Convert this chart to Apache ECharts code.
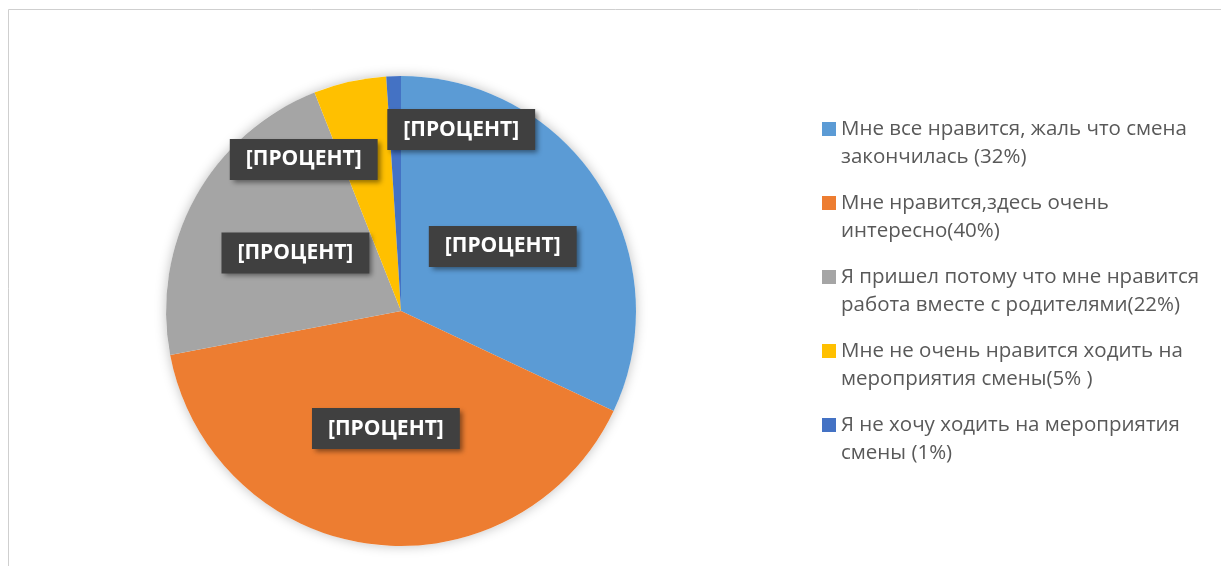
<!DOCTYPE html>
<html>
<head>
<meta charset="utf-8">
<script src="https://cdn.jsdelivr.net/npm/echarts@6/dist/echarts.min.js"></script>
<style>
  html, body { margin: 0; padding: 0; background: #fff; }
  #chart { width: 1221px; height: 566px; }
</style>
</head>
<body>
<div id="chart"></div>
<script>
  // категории (в легенде перенос строки как на картинке)
  const categories = [
    'Мне все нравится, жаль что смена\nзакончилась (32%)',
    'Мне нравится,здесь очень\nинтересно(40%)',
    'Я пришел потому что мне нравится\nработа вместе с родителями(22%)',
    'Мне не очень нравится ходить на\nмероприятия смены(5% )',
    'Я не хочу ходить на мероприятия\nсмены (1%)'
  ]
  const values = [32, 40, 22, 5, 1]
  const colors = ['#5B9BD5', '#ED7D31', '#A5A5A5', '#FFC000', '#4472C4']
  const labelText = '[ПРОЦЕНТ]'
  // сдвиг подписей маленьких секторов
  const labelShift = [[0, 0], [0, -2], [0, 0], [-71, -34], [64, -61]]

  const chart = echarts.init(document.getElementById('chart'))

  chart.setOption({
    animation: false,
    graphic: [{
      type: 'rect',
      silent: true,
      shape: { x: 8.5, y: 9.5, width: 1400, height: 700 },
      style: { fill: null, stroke: '#cfcfcf', lineWidth: 1 }
    }],
    legend: {
      orient: 'vertical',
      left: 822,
      top: 87,
      padding: 0,
      itemWidth: 14,
      itemHeight: 14,
      itemGap: -10,
      icon: 'rect',
      data: categories,
      // пустая первая строка, чтобы маркер стоял у первой строки текста
      formatter: name => ' \n' + name,
      textStyle: {
        fontFamily: 'Open Sans',
        fontSize: 20.5,
        lineHeight: 28,
        color: '#595959'
      }
    },
    series: [{
      // тень под кругом
      type: 'pie',
      silent: true,
      center: [401, 311],
      radius: 235,
      label: { show: false },
      labelLine: { show: false },
      itemStyle: {
        color: '#fff',
        shadowBlur: 12,
        shadowColor: 'rgba(0, 0, 0, 0.25)'
      },
      data: [{ value: 1, name: '' }],
      z: 1
    }, {
      type: 'pie',
      center: [401, 311],
      radius: 235,
      startAngle: 90,
      clockwise: true,
      z: 2,
      itemStyle: { borderWidth: 0 },
      label: {
        show: true,
        position: 'inside',
        formatter: labelText,
        fontFamily: 'Open Sans',
        fontWeight: 'bold',
        fontSize: 21,
        lineHeight: 21,
        color: '#fff',
        backgroundColor: '#404040',
        padding: [10, 16],
        shadowColor: 'rgba(0, 0, 0, 0.45)',
        shadowBlur: 5,
        shadowOffsetX: 3,
        shadowOffsetY: 3
      },
      labelLayout: params => ({
        dx: labelShift[params.dataIndex][0],
        dy: labelShift[params.dataIndex][1]
      }),
      emphasis: { disabled: true },
      data: categories.map((name, i) => ({
        name: name,
        value: values[i],
        itemStyle: { color: colors[i] }
      }))
    }]
  })
</script>
</body>
</html>
